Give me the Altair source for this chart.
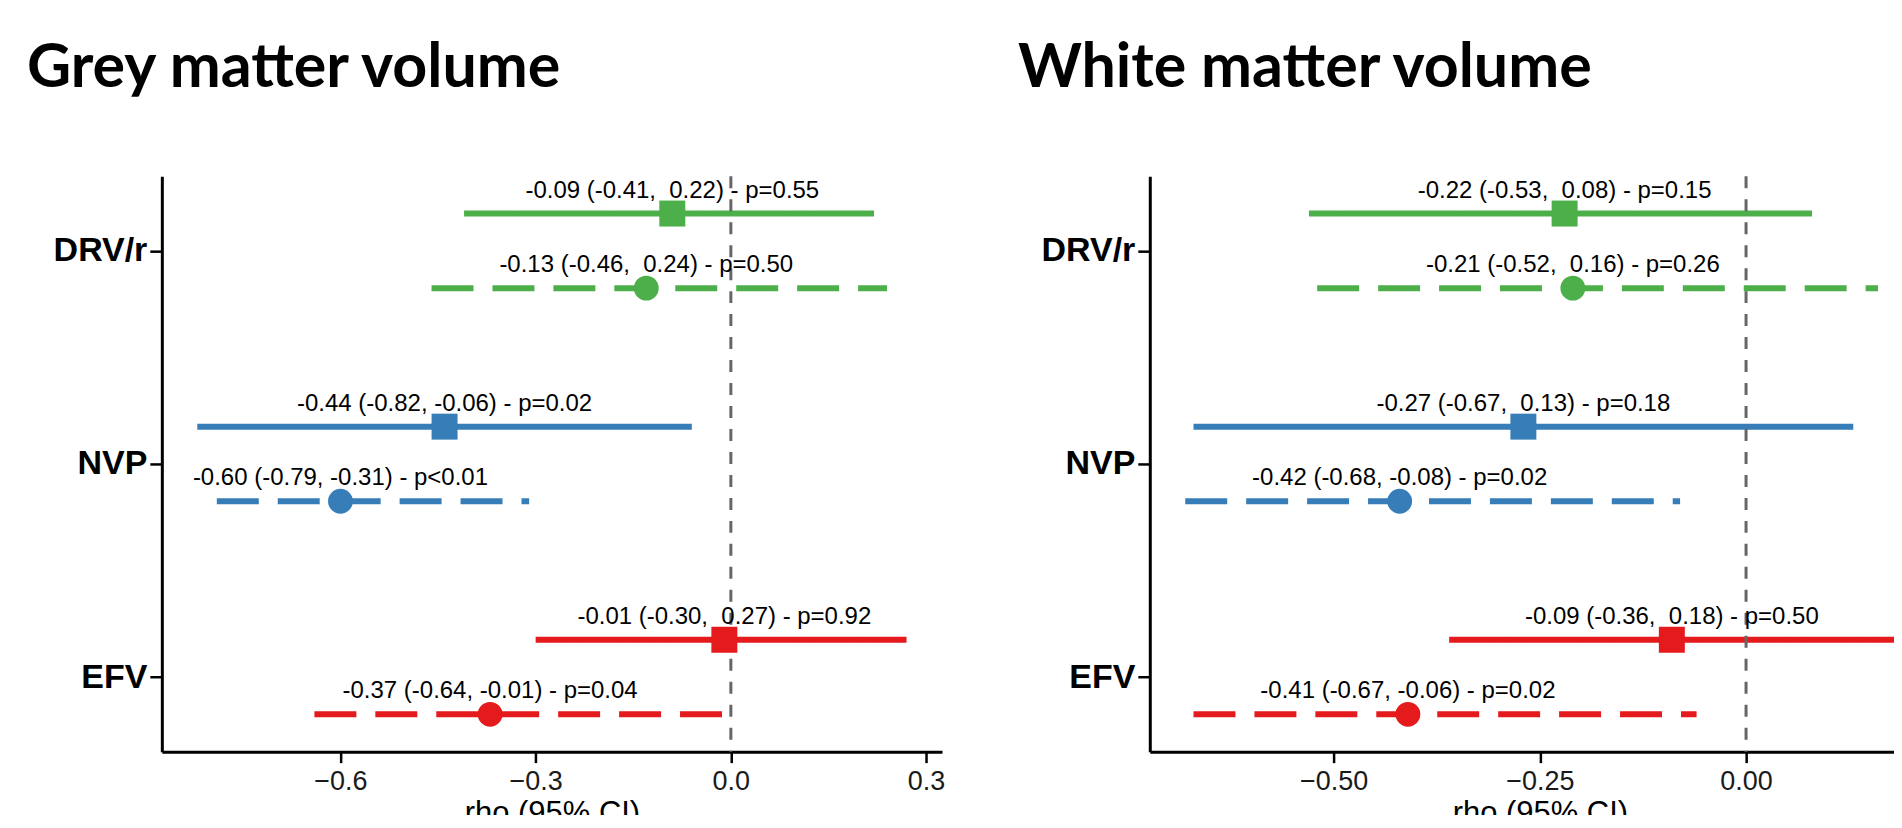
import altair as alt
import pandas as pd

# ---- data ----
drugs = ["DRV/r", "NVP", "EFV"]
drug_colors = ["#4DAF4A", "#377EB8", "#E41A1C"]
drug_pos = [3, 2, 1]

row_drug = ["DRV/r", "DRV/r", "NVP", "NVP", "EFV", "EFV"]
row_type = ["solid", "dashed", "solid", "dashed", "solid", "dashed"]

gm_est = [-0.09, -0.13, -0.44, -0.60, -0.01, -0.37]
gm_lo = [-0.41, -0.46, -0.82, -0.79, -0.30, -0.64]
gm_hi = [0.22, 0.24, -0.06, -0.31, 0.27, -0.01]
gm_p = ["p=0.55", "p=0.50", "p=0.02", "p<0.01", "p=0.92", "p=0.04"]

wm_est = [-0.22, -0.21, -0.27, -0.42, -0.09, -0.41]
wm_lo = [-0.53, -0.52, -0.67, -0.68, -0.36, -0.67]
wm_hi = [0.08, 0.16, 0.13, -0.08, 0.18, -0.06]
wm_p = ["p=0.15", "p=0.26", "p=0.18", "p=0.02", "p=0.50", "p=0.02"]

gm_ticks = [-0.6, -0.3, 0.0, 0.3]
wm_ticks = [-0.5, -0.25, 0.0]

type_dodge = {"solid": 0.175, "dashed": -0.175}
FONT = "Liberation Sans"


def fmt_num(v):
    # width-5 number, padded with a non-breaking space so SVG keeps it
    s = f"{v:.2f}"
    return "\u00a0" + s if v >= 0 else s


def make_df(est, lo, hi, p):
    pos_of = dict(zip(drugs, drug_pos))
    rows = []
    for d, t, e, l, h, pv in zip(row_drug, row_type, est, lo, hi, p):
        rows.append({
            "drug": d, "type": t, "est": e, "lo": l, "hi": h,
            "pos": pos_of[d] + type_dodge[t],
            "label": f"{e:.2f} ({l:.2f}, {fmt_num(h)}) - {pv}",
        })
    return pd.DataFrame(rows)


label_expr = " : ".join(
    f"datum.value == {p} ? '{d}'" for d, p in zip(drugs[:-1], drug_pos[:-1])
) + f" : '{drugs[-1]}'"


def panel(df, title, ticks, fmt, width, dx):
    lo_min, hi_max = df["lo"].min(), df["hi"].max()
    r = hi_max - lo_min
    dom = [lo_min - 0.05 * r, hi_max + 0.05 * r]
    xscale = alt.Scale(domain=dom, nice=False, zero=False)
    xaxis = alt.Axis(values=ticks, format=fmt, grid=False, labelFlush=False,
                     labelFontSize=27, labelFont=FONT, labelColor="#1a1a1a",
                     labelPadding=6, tickSize=11, tickWidth=2.5, tickColor="black",
                     domainColor="black", domainWidth=3,
                     titleFontSize=31, titleFont=FONT, titleFontWeight="normal",
                     titleColor="black", titlePadding=4)
    yscale = alt.Scale(domain=[0.65, 3.35], nice=False, zero=False)
    yaxis = alt.Axis(values=drug_pos, labelExpr=label_expr, grid=False, title=None,
                     labelFontSize=34, labelFont=FONT, labelFontWeight="bold",
                     labelColor="black", labelPadding=3, tickSize=12, tickWidth=2.5,
                     tickColor="black", domainColor="black", domainWidth=3)

    def X(f):
        return alt.X(f"{f}:Q", scale=xscale, axis=xaxis, title="rho (95% CI)")

    def Y():
        return alt.Y("pos:Q", scale=yscale, axis=yaxis, title=None)

    color = alt.Color("drug:N", scale=alt.Scale(domain=drugs, range=drug_colors), legend=None)
    base = alt.Chart(df)

    bars = base.mark_rule(strokeWidth=6).encode(
        x=X("lo"), x2="hi", y=Y(), color=color,
        strokeDash=alt.StrokeDash("type:N", scale=alt.Scale(domain=["solid", "dashed"],
                                  range=[[1, 0], [42, 19]]), legend=None),
    )
    zero = alt.Chart(pd.DataFrame({"z": [0.0]})).mark_rule(
        color="#666666", strokeWidth=3, strokeDash=[12, 11]
    ).encode(x=X("z"))
    squares = base.transform_filter(alt.datum.type == "solid").mark_point(
        shape="square", size=676, filled=True, opacity=1
    ).encode(x=X("est"), y=Y(), color=color)
    circles = base.transform_filter(alt.datum.type == "dashed").mark_point(
        shape="circle", size=616, filled=True, opacity=1
    ).encode(x=X("est"), y=Y(), color=color)
    texts = base.mark_text(dy=-16, baseline="alphabetic", align="center",
                           fontSize=24, font=FONT, color="black").encode(
        x=X("est"), y=Y(), text="label:N")

    return alt.layer(bars, zero, squares, circles, texts).properties(
        width=width, height=576,
        title=alt.TitleParams(title, anchor="start", frame="group", dx=dx,
                              fontSize=61, font="Lato", fontWeight="bold",
                              color="black", baseline="alphabetic", offset=27),
    )


left = panel(make_df(gm_est, gm_lo, gm_hi, gm_p), "Grey matter volume",
             gm_ticks, ".1f", 781, -135)
right = panel(make_df(wm_est, wm_lo, wm_hi, wm_p), "White matter volume",
              wm_ticks, ".2f", 781, -132)

chart = alt.hconcat(left, right, spacing=208, bounds="flush").properties(
    padding={"left": 19, "top": 29, "right": -36, "bottom": -14}
).configure_view(stroke=None)

chart.save("out.html", embed_options={"renderer": "svg", "actions": False})
